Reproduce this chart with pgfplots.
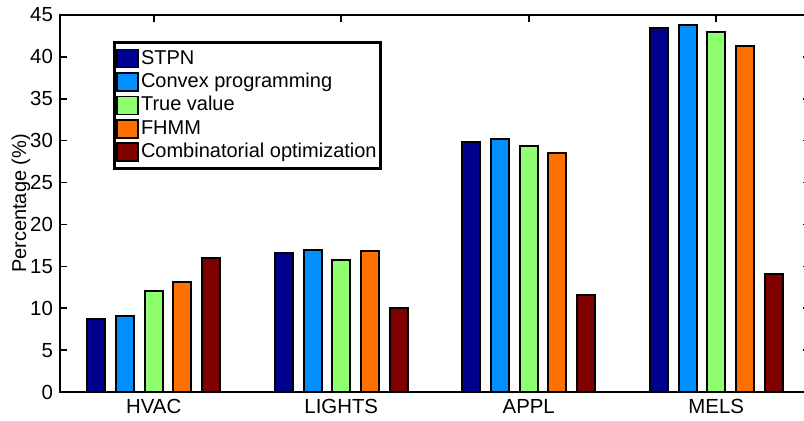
\documentclass[border=0pt]{standalone}
\usepackage{fontspec}
\setmainfont{Liberation Sans}
\usepackage{pgfplots}
\pgfplotsset{compat=1.18}
\definecolor{cA}{RGB}{0,0,143}
\definecolor{cB}{RGB}{0,143,255}
\definecolor{cC}{RGB}{143,255,112}
\definecolor{cD}{RGB}{255,112,0}
\definecolor{cE}{RGB}{128,0,0}
\pgfplotsset{
  mybar/.style={ybar, bar width=0.096, fill=#1, draw=black, line width=1pt,
    legend image code/.code={\draw[fill=#1,draw=black,line width=0.8pt] (0pt,-4.5pt) rectangle (10.5pt,4.5pt);}},
}
\begin{document}
\begin{tikzpicture}
\begin{axis}[
  scale only axis,
  width=375pt, height=188.5pt,
  xmin=0.5, xmax=4.5, ymin=0, ymax=45,
  xtick={1,2,3,4}, xticklabels={HVAC,LIGHTS,APPL,MELS},
  ytick={0,5,...,45},
  tick align=inside,
  major tick length=3.5pt,
  axis line style={line width=1.2pt},
  every tick/.style={line width=0.8pt, black},
  /pgf/number format/assume math mode=true,
  tick label style={font=\fontsize{10.2}{12}\selectfont},
  ylabel={Percentage (\%)},
  every axis y label/.style={at={(axis description cs:-0.052,0.5)}, rotate=90, anchor=center, font=\fontsize{10}{12}\selectfont},
  legend style={at={(0.0707,0.931)}, anchor=north west, draw=black, line width=1.4pt,
    inner xsep=1pt, inner ysep=2.2pt, font=\fontsize{10}{12}\selectfont,
    nodes={inner sep=1pt, text height=7.6pt, text depth=2.1pt}, row sep=0pt},
  legend cell align=left,
]
\addplot[mybar=cA, bar shift=-0.306] coordinates {(1,8.7) (2,16.55) (3,29.8) (4,43.4)};
\addplot[mybar=cB, bar shift=-0.153] coordinates {(1,9.1) (2,16.9) (3,30.2) (4,43.8)};
\addplot[mybar=cC, bar shift=0] coordinates {(1,12.0) (2,15.7) (3,29.4) (4,42.95)};
\addplot[mybar=cD, bar shift=0.153] coordinates {(1,13.1) (2,16.8) (3,28.5) (4,41.25)};
\addplot[mybar=cE, bar shift=0.306] coordinates {(1,16.0) (2,10.05) (3,11.6) (4,14.05)};
\legend{STPN, Convex programming, True value, FHMM, Combinatorial optimization}
\end{axis}
\pgfresetboundingbox
\path[use as bounding box] ([xshift=-30pt,yshift=-14.5pt]current axis.south west) rectangle ([xshift=-3pt,yshift=7.5pt]current axis.north east);
\end{tikzpicture}
\end{document}
